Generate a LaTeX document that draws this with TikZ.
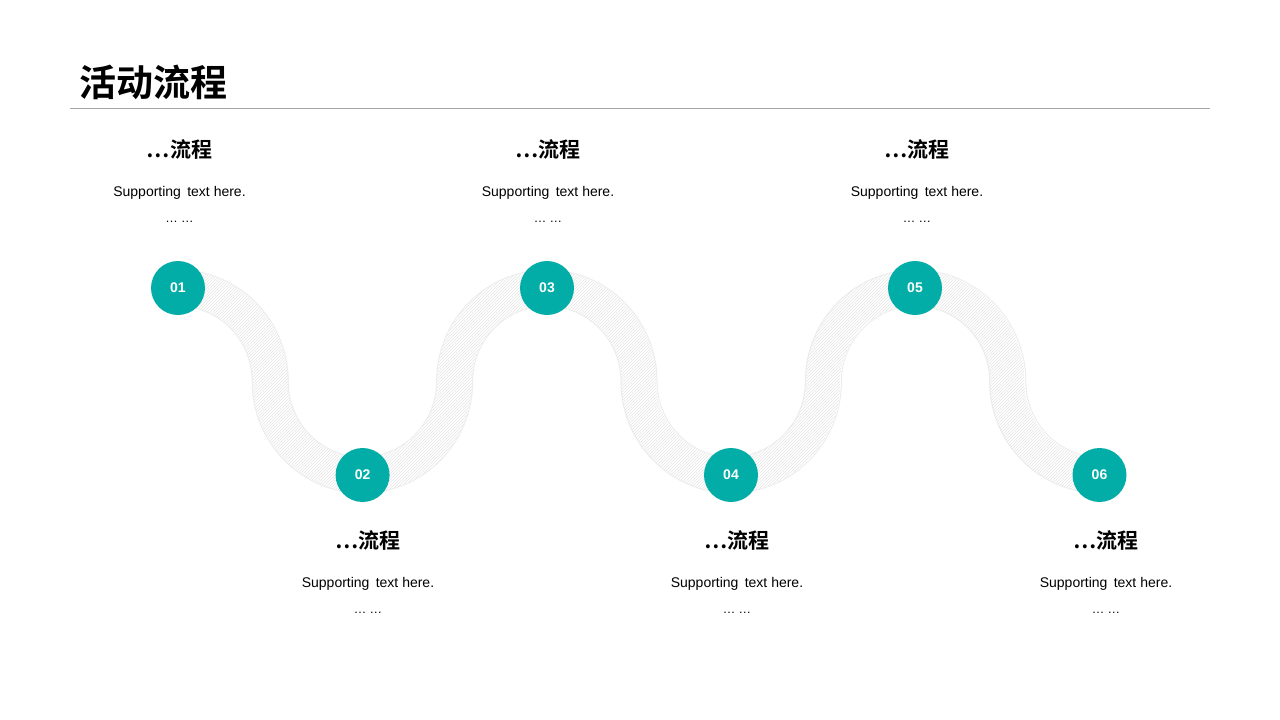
\documentclass[tikz,border=0pt]{standalone}
\usepackage{fontspec}
\setmainfont{Liberation Sans}
\newfontfamily\cjk{Noto Sans CJK SC}[BoldFont={* Bold}]
\usetikzlibrary{patterns}
\definecolor{teal1}{HTML}{02ADA7}
\definecolor{bandedge}{HTML}{ECECEC}
\definecolor{hatch}{HTML}{E6E6E6}
\definecolor{rule}{HTML}{A6A6A6}
\tikzset{
  numdot/.style={circle,fill=teal1,minimum size=54pt,inner sep=0pt,text=white,font=\bfseries\fontsize{14}{14}\selectfont},
  headtxt/.style={font=\cjk\bfseries\fontsize{21}{21}\selectfont,inner sep=0pt},
  suptxt/.style={font=\fontsize{14}{14}\selectfont,inner sep=0pt},
  dottxt/.style={font=\fontsize{12.5}{12.5}\selectfont,inner sep=0pt},
  titletxt/.style={font=\cjk\bfseries\fontsize{37}{37}\selectfont,inner sep=0pt,anchor=west},
}
\newcommand{\suptext}{Supporting\hspace{0.45em}text here.}
\begin{document}
\begin{tikzpicture}[x=1pt,y=-1pt]
\useasboundingbox[fill=white] (0,0) rectangle (1280,720);
% title
\node[titletxt] (title) at (79,82) {活动流程};
\coordinate (ruleL) at (70,108);
\coordinate (ruleR) at (1210,108);
\draw[rule,line width=1pt] (ruleL) -- (ruleR);
% band outline
\draw[bandedge,line width=1pt,double=white,double distance=35pt]
  (178,288) arc[start angle=-90,end angle=0,x radius=92.2,y radius=93.5]
  arc[start angle=180,end angle=0,x radius=92.2,y radius=93.5]
  arc[start angle=180,end angle=360,x radius=92.2,y radius=93.5]
  arc[start angle=180,end angle=0,x radius=92.2,y radius=93.5]
  arc[start angle=180,end angle=360,x radius=92.2,y radius=93.5]
  arc[start angle=180,end angle=90,x radius=92.2,y radius=93.5];
% hatched band
\foreach \cx/\aa/\ab in {178/-90/0, 362.4/180/0, 546.8/180/360, 730.6/180/0, 914.8/180/360, 1099/180/90}{
  \fill[pattern=north east lines,pattern color=hatch]
    (\cx,381.5) ++(\aa:109.7 and 111) arc[start angle=\aa,end angle=\ab,x radius=109.7,y radius=111]
    -- ++(\ab:-35 and -35) arc[start angle=\ab,end angle=\aa,x radius=74.7,y radius=76] -- cycle;
}
% circles
\node[numdot] (n1) at (178,288) {01};
\node[numdot] (n2) at (362.6,475) {02};
\node[numdot] (n3) at (547,288) {03};
\node[numdot] (n4) at (731,475) {04};
\node[numdot] (n5) at (915,288) {05};
\node[numdot] (n6) at (1099.5,475) {06};
% top texts
\foreach \i/\x in {1/179.5,3/548,5/917}{
  \node[headtxt] (h\i) at (\x,149) {…流程};
  \node[suptxt] (s\i) at (\x,193) {\suptext};
  \node[dottxt] (d\i) at (\x,222) {… …};
}
\foreach \i/\x in {2/368,4/737,6/1106}{
  \node[headtxt] (h\i) at (\x,540) {…流程};
  \node[suptxt] (s\i) at (\x,584) {\suptext};
  \node[dottxt] (d\i) at (\x,613) {… …};
}
\end{tikzpicture}
\end{document}
